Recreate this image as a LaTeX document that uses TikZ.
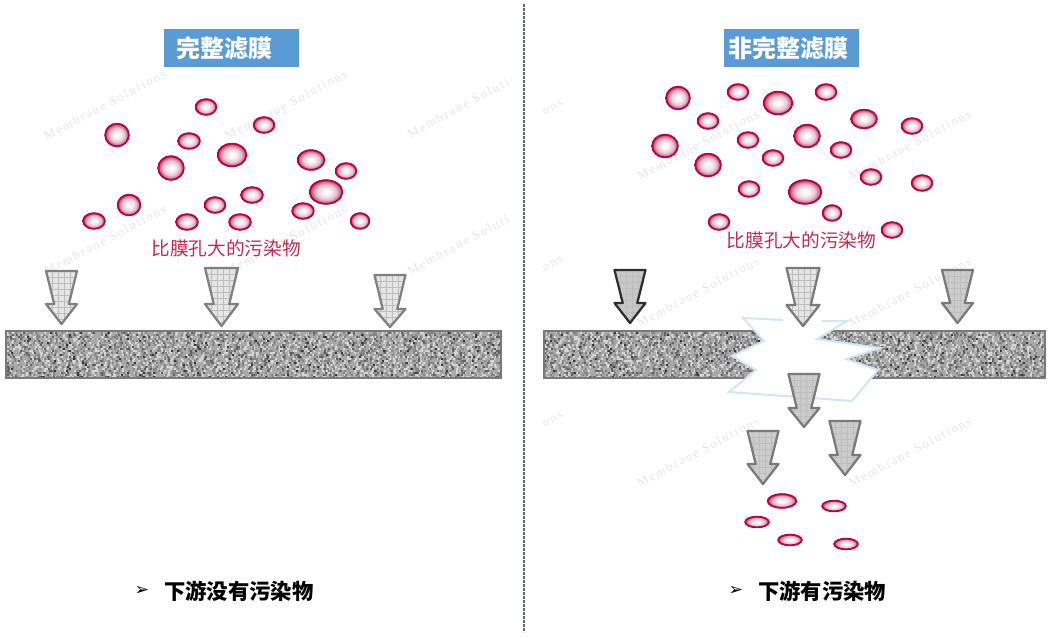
\documentclass[tikz,border=0pt]{standalone}
\usepackage{fontspec}
\newfontfamily\cjk{Noto Sans CJK SC}
\newfontfamily\wmfont[LetterSpace=15]{Liberation Serif}
\newfontfamily\djv{DejaVu Sans}
\definecolor{titleblue}{HTML}{5B9BD5}
\definecolor{crim}{HTML}{C00040}
\definecolor{labelred}{HTML}{C8284F}
\definecolor{crack}{HTML}{CFE8F7}
\definecolor{sepgray}{HTML}{5F6670}
\definecolor{wmgray}{HTML}{E6E6E6}
\pgfdeclareradialshading{blobshade}{\pgfpoint{0bp}{0bp}}{rgb(0bp)=(1,1,1);rgb(6bp)=(0.99,0.95,0.97);rgb(15bp)=(0.90,0.76,0.81);rgb(21bp)=(0.78,0.42,0.55);rgb(25bp)=(0.75,0,0.25);rgb(50bp)=(0.75,0,0.25)}
\newcommand{\blob}[4]{%
  \shade[shading=blobshade] (#1,#2) ellipse [x radius=#3,y radius=#4];
  \draw[crim,line width=1.3pt] (#1,#2) ellipse [x radius=#3-0.7,y radius=#4-0.7];}
% center x, top y, half width, shoulder y, tip y, fill, draw
\newcommand{\downarrowshape}[7]{%
  \begin{scope}
    \clip (#1-#3,#2) -- (#1+#3,#2) -- (#1+0.47*#3,#4) -- (#1+#3,#4) -- (#1,#5) -- (#1-#3,#4) -- (#1-0.47*#3,#4) -- cycle;
    \fill[#6] (#1-#3,#2) rectangle (#1+#3,#5);
    \foreach \gi in {0,6,...,36}{\draw[black!26,line width=0.1pt] (#1-#3+\gi,#2) -- +(0,62);}
    \foreach \gi in {0,6,...,60}{\draw[black!26,line width=0.1pt] (#1-#3,#2+\gi) -- +(36,0);}
  \end{scope}
  \draw[#7,line width=1.7pt,line join=round] (#1-#3,#2) -- (#1+#3,#2) -- (#1+0.47*#3,#4) -- (#1+#3,#4) -- (#1,#5) -- (#1-#3,#4) -- (#1-0.47*#3,#4) -- cycle;}
\newcount\gxc
% x0 x1 y gray maxstep
\newcommand{\grainrow}[5]{%
  \begin{pgfscope}\pgfsetfillcolor{black!#4}%
  \pgfmathrandominteger{\grr}{0}{#5}\gxc=#1\relax\advance\gxc by \grr\relax
  \loop\ifnum\gxc<#2\relax
    \pgfpathrectangle{\pgfpointxy{\the\gxc}{#3}}{\pgfpointxy{2.2}{2.2}}%
    \pgfmathrandominteger{\grr}{1}{#5}%
    \advance\gxc by \grr\relax\advance\gxc by \grr\relax
  \repeat
  \pgfusepath{fill}\end{pgfscope}}
% membrane x0 x1
\newcommand{\membrane}[2]{%
  \fill[black!34] (#1,331) rectangle (#2,378);
  \foreach \gy in {332,334,...,376}{
    \grainrow{#1}{#2-3}{\gy}{16}{6}
    \grainrow{#1}{#2-3}{\gy}{48}{8}
    \grainrow{#1}{#2-3}{\gy}{62}{24}
    \grainrow{#1}{#2-3}{\gy}{78}{80}
  }
  \draw[black!52,line width=1.7pt] (#1,331) rectangle (#2,378);}
\newcommand{\wm}[3]{\node[rotate=28,text=wmgray,inner sep=0pt,font=\wmfont\fontsize{9.5}{11}\selectfont] at (#1,#2) {#3};}
\begin{document}
\begin{tikzpicture}[x=0.75pt,y=-0.75pt]
\useasboundingbox (0,0) rectangle (1050,636);
\pgfmathsetseed{4242}
% watermarks
\foreach \wx/\wy in {105/105,286/105,105/240,286/240,698/145,910/145,698/292,910/292,698/452,910/452}{
  \wm{\wx}{\wy}{Membrane Solutions}}
\wm{458}{108}{Membrane Soluti}
\wm{458}{245}{Membrane Soluti}
\wm{553}{108}{ons}
\wm{553}{264}{ons}
\wm{553}{420}{ons}
% separator
\draw[sepgray,line width=1.7pt,dash pattern=on 1.9pt off 1.1pt] (524,4) -- (524,632);
% titles
\node[fill=titleblue,minimum width=101.25pt,minimum height=28.5pt,inner sep=0pt] (t1) at (231.5,48) {};
\node[text=white,font=\cjk\bfseries\fontsize{18}{20}\selectfont,inner sep=0pt] (t1text) at (224,48) {完整滤膜};
\node[fill=titleblue,minimum width=101.25pt,minimum height=28.5pt,inner sep=0pt] (t2) at (791.5,48) {};
\node[text=white,font=\cjk\bfseries\fontsize{18}{20}\selectfont,inner sep=0pt] (t2text) at (788.5,48) {非完整滤膜};
% particles left
\foreach \a/\b/\c/\d in {206/107/11/8.5,264/125/11/8.5,117/135/12.5/12,189/141/11.5/8.5,232/155/15/12,171/168/13.5/12.5,311/160/14/10.5,346/171/11/8.5,326/192/17/12.5,252/195/11.5/8.5,215/205/11/8.5,129/205/12/11,303/211/11.5/8.5,94/221/11.5/8.5,187/222/11.5/8.5,240/222/11.5/8.5,360/221/10/8.5}{
  \blob{\a}{\b}{\c}{\d}}
% particles right
\foreach \a/\b/\c/\d in {678/98/12.5/12,738/92/11/8.5,778/103/15/12,826/92/11/8.5,708/121/11/8.5,864/119/13.5/10,912/126/11/8.5,665/146/13.5/12,748/140/11/8.5,807/136/13.5/12,841/150/11/8.5,773/158/11/8.5,708/165/13.5/12,871/177/11/8.5,922/183/11/8.5,749/189/11/8.5,805/192/17/12.5,832/213/10/8.5,719/222/11/8.5,892/230/11/8.5}{
  \blob{\a}{\b}{\c}{\d}}
% labels
\node[text=labelred,font=\cjk\fontsize{14}{16}\selectfont,inner sep=0pt] (l1) at (226,248) {比膜孔大的污染物};
\node[text=labelred,font=\cjk\fontsize{14}{16}\selectfont,inner sep=0pt] (l2) at (801.5,240) {比膜孔大的污染物};
% membranes
\membrane{6}{501}
\membrane{544}{1045}
% crack
\fill[white] (743,318) -- (783,320) -- (822,321) -- (847,321) -- (817,339) -- (880,348) -- (846,359) -- (878,370) -- (852,401) -- (729,392) -- (756,370) -- (732,356) -- (764,341) -- cycle;
\draw[crack,line width=1.5pt,line join=miter] (783,320) -- (743,318) -- (764,341) -- (732,356) -- (756,370) -- (729,392) -- (852,401) -- (878,370) -- (846,359) -- (880,348) -- (817,339) -- (847,321) -- (822,321);
% arrows left
\downarrowshape{61.5}{271}{15.5}{304}{324}{black!10}{black!50}
\downarrowshape{221.5}{268}{16.5}{304}{326}{black!10}{black!50}
\downarrowshape{390}{275}{15.5}{309}{327}{black!10}{black!50}
% arrows right
\downarrowshape{630}{270}{15.5}{303}{323}{black!22}{black!82}
\downarrowshape{803}{268}{16.5}{305}{326}{black!10}{black!52}
\downarrowshape{957.5}{270}{15.5}{303}{323}{black!20}{black!52}
\downarrowshape{804}{374}{15.5}{408}{427}{black!20}{black!52}
\downarrowshape{763}{431}{15.5}{464}{484}{black!20}{black!52}
\downarrowshape{845}{421}{15.5}{455}{475}{black!20}{black!52}
% particles below
\foreach \a/\b/\c/\d in {782/501/15/7.5,834/506/12.5/6,757/522/12.5/6,790/540/12.5/6,846/544/12.5/6}{
  \blob{\a}{\b}{\c}{\d}}
% bottom lines
\node[font=\djv\fontsize{13}{15}\selectfont,inner sep=0pt] (b1) at (142,591) {➢};
\node[anchor=west,font=\cjk\bfseries\fontsize{16}{18}\selectfont,inner sep=0pt] (c1) at (164,591) {下游没有污染物};
\node[font=\djv\fontsize{13}{15}\selectfont,inner sep=0pt] (b2) at (736,591) {➢};
\node[anchor=west,font=\cjk\bfseries\fontsize{16}{18}\selectfont,inner sep=0pt] (c2) at (758,591) {下游有污染物};
\end{tikzpicture}
\end{document}
